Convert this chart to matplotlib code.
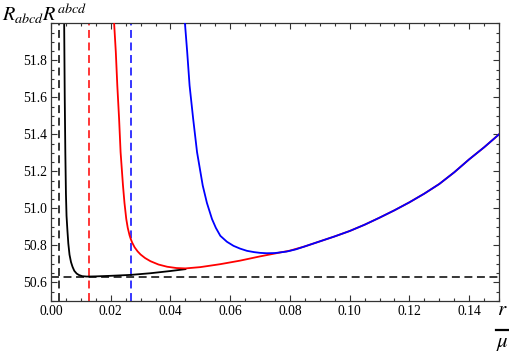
import matplotlib
matplotlib.use("Agg")
import matplotlib.pyplot as plt
from matplotlib.lines import Line2D
from matplotlib.ticker import MultipleLocator, FormatStrFormatter

plt.rcParams['mathtext.fontset'] = 'stix'
plt.rcParams['font.family'] = ['Liberation Serif', 'DejaVu Serif']

# Black curve
r_black = [0.0044, 0.0046, 0.0048, 0.0050, 0.0052, 0.0055, 0.0058, 0.0062, 0.0067,
           0.0072, 0.0078, 0.0086, 0.0094, 0.0105, 0.0120, 0.0150, 0.0200, 0.0267,
           0.0333, 0.0400, 0.0450]
v_black = [52.02, 51.60, 51.30, 51.08, 50.96, 50.88, 50.81, 50.75, 50.71,
           50.685, 50.663, 50.648, 50.640, 50.634, 50.632, 50.633, 50.636, 50.641,
           50.650, 50.662, 50.672]

# Red curve
r_red = [0.0211, 0.0217, 0.0222, 0.0228, 0.0233, 0.0241, 0.0246, 0.0252, 0.0257,
         0.0263, 0.0267, 0.0272, 0.0280, 0.0290, 0.0300, 0.0315, 0.0333, 0.0360,
         0.0389, 0.0420, 0.0450, 0.0500, 0.0567, 0.0633, 0.0700, 0.0767, 0.0800,
         0.0850, 0.0900, 0.0950, 0.1000, 0.1050, 0.1100, 0.1150, 0.1200, 0.1250,
         0.1300, 0.1350, 0.1400, 0.1450, 0.1500]
v_red = [52.01, 51.845, 51.664, 51.484, 51.304, 51.124, 51.03, 50.943, 50.895,
         50.855, 50.835, 50.815, 50.790, 50.768, 50.751, 50.732, 50.715, 50.697,
         50.685, 50.678, 50.676, 50.683, 50.699, 50.718, 50.741, 50.762, 50.772,
         50.795, 50.822, 50.849, 50.878, 50.912, 50.950, 50.990, 51.033, 51.080,
         51.132, 51.195, 51.265, 51.330, 51.400]

# Blue curve
r_blue = [0.0448, 0.0456, 0.0464, 0.0476, 0.0489, 0.0508, 0.0522, 0.0539, 0.0552,
          0.0567, 0.0589, 0.0611, 0.0633, 0.0656, 0.0680, 0.0700, 0.0722, 0.0750,
          0.0789, 0.0820, 0.0850, 0.0900, 0.0950, 0.1000, 0.1050, 0.1100, 0.1150,
          0.1200, 0.1250, 0.1300, 0.1350, 0.1400, 0.1450, 0.1500]
v_blue = [52.01, 51.845, 51.664, 51.484, 51.304, 51.124, 51.03, 50.943, 50.895,
          50.852, 50.82, 50.798, 50.783, 50.771, 50.764, 50.760, 50.758, 50.759,
          50.767, 50.779, 50.795, 50.822, 50.849, 50.878, 50.912, 50.950, 50.990,
          51.033, 51.080, 51.132, 51.195, 51.265, 51.330, 51.400]

# Reference lines
h_line = 50.63
v_black_line = 0.0028
v_red_line = 0.0126
v_blue_line = 0.0267

fig = plt.figure(figsize=(5.10, 3.53), dpi=100)
ax = fig.add_axes([51/510, 1-301/353, 448/510, (301-23.3)/353])

dash = (0, (5.2, 3.0))
ax.axhline(h_line, color='black', lw=1.1, ls=dash, zorder=1)
ax.axvline(v_black_line, color='black', lw=1.1, ls=dash, zorder=1)
ax.axvline(v_red_line, color='red', lw=1.1, ls=dash, zorder=1)
ax.axvline(v_blue_line, color='blue', lw=1.1, ls=dash, zorder=1)

ax.plot(r_black, v_black, color='black', lw=1.3, zorder=2)
ax.plot(r_red, v_red, color='red', lw=1.3, zorder=3)
ax.plot(r_blue, v_blue, color='blue', lw=1.3, zorder=4)

ax.set_xlim(0, 0.15)
ax.set_ylim(50.5, 52.0)

ax.xaxis.set_major_locator(MultipleLocator(0.02))
ax.xaxis.set_minor_locator(MultipleLocator(0.005))
ax.yaxis.set_major_locator(MultipleLocator(0.2))
ax.yaxis.set_minor_locator(MultipleLocator(0.05))
ax.xaxis.set_major_formatter(FormatStrFormatter('%.2f'))
ax.yaxis.set_major_formatter(FormatStrFormatter('%.1f'))
ax.set_yticks([50.6, 50.8, 51.0, 51.2, 51.4, 51.6, 51.8])

ax.tick_params(which='both', direction='in', top=True, right=True,
               labelsize=9.8, color='#333333', width=0.8, pad=3)
ax.tick_params(which='major', length=4)
ax.tick_params(which='minor', length=2.3)
for s in ax.spines.values():
    s.set_color('#333333')
    s.set_linewidth(0.9)

fig.text(0.004, 0.995, r'$R_{abcd}R^{abcd}$', fontsize=14.5, ha='left', va='top')

# x-axis label drawn as a stacked fraction r / mu
fig.text(508/510, 1-315/353, r'$r$', fontsize=15, ha='right', va='baseline')
fig.add_artist(Line2D([496/510, 510/510], [1-330/353, 1-330/353],
                      transform=fig.transFigure, color='black', lw=1.6))
fig.text(509/510, 1-347/353, r'$\mu$', fontsize=15, ha='right', va='baseline')

fig.savefig('out.png', dpi=100)
